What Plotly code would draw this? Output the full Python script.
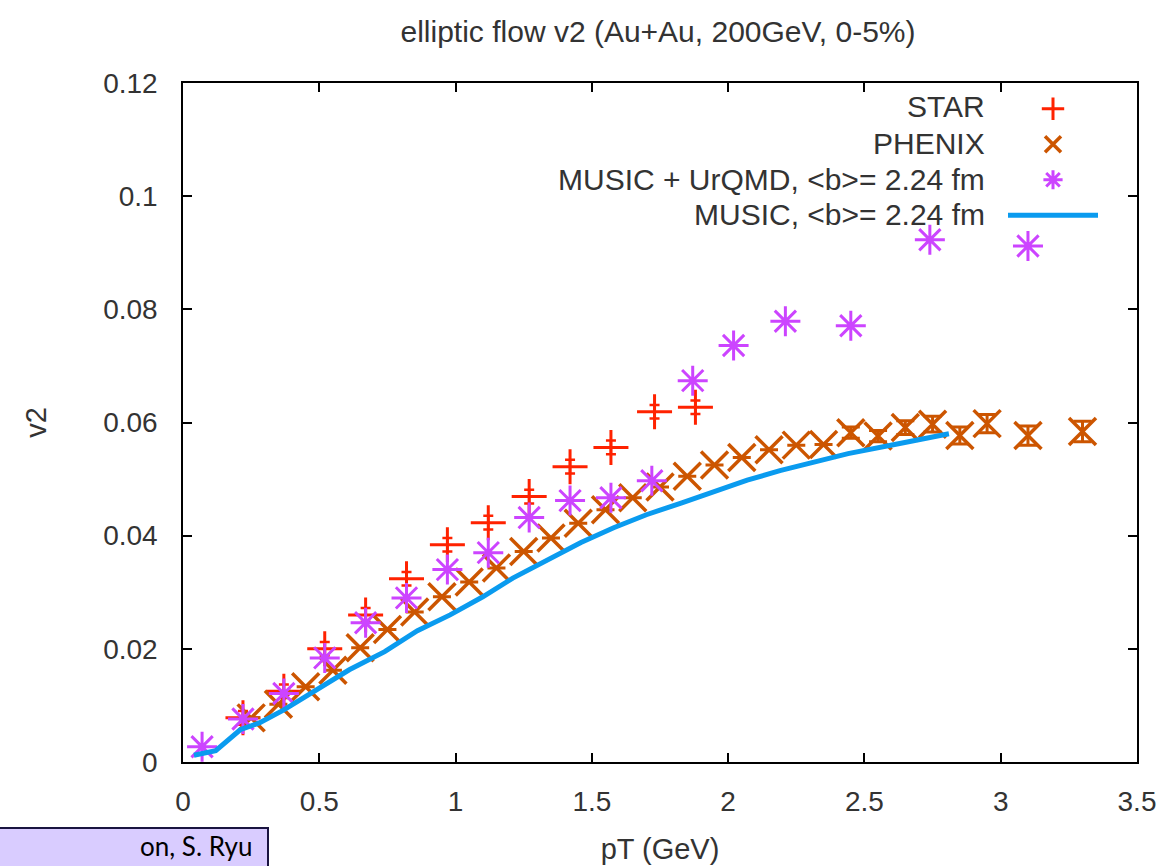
import plotly.graph_objects as go

# ---------------- data ----------------
star_pt = [0.22, 0.37, 0.52, 0.67, 0.82, 0.97, 1.12, 1.27, 1.42, 1.57, 1.73, 1.88]
star_v2 = [0.0078, 0.0125, 0.0200, 0.0260, 0.0324, 0.0384, 0.0423, 0.0469, 0.0522, 0.0556, 0.0619, 0.0627]
star_err = [0.0012, 0.0012, 0.0012, 0.0012, 0.0012, 0.0012, 0.0012, 0.0012, 0.0012, 0.0012, 0.0012, 0.0012]

phenix_pt = [0.25, 0.35, 0.45, 0.55, 0.65, 0.75, 0.85, 0.95, 1.05, 1.15,
             1.25, 1.35, 1.45, 1.55, 1.65, 1.75, 1.85, 1.95, 2.05, 2.15,
             2.25, 2.35, 2.45, 2.55, 2.65, 2.75, 2.85, 2.95, 3.10, 3.30]
phenix_v2 = [0.0078, 0.0102, 0.0133, 0.0162, 0.0202, 0.0234, 0.0265, 0.0292, 0.0318, 0.0343,
             0.0372, 0.0396, 0.0422, 0.0446, 0.0467, 0.0486, 0.0505, 0.0525, 0.0538, 0.0552,
             0.0560, 0.0561, 0.0582, 0.0576, 0.0591, 0.0597, 0.0577, 0.0598, 0.0577, 0.0584]
phenix_err = [None, None, None, None, None, None, None, None, None, None,
              None, None, None, None, None, None, None, None, None, None,
              None, None, 0.0010, 0.0010, 0.0012, 0.0014, 0.0015, 0.0016, 0.0017, 0.0018]

urqmd_pt = [0.07, 0.22, 0.37, 0.52, 0.67, 0.82, 0.97, 1.12, 1.27, 1.42,
            1.57, 1.72, 1.87, 2.02, 2.21, 2.45, 2.74, 3.10]
urqmd_v2 = [0.0027, 0.0076, 0.0121, 0.0184, 0.0246, 0.0290, 0.0340, 0.0370, 0.0432, 0.0462,
            0.0467, 0.0497, 0.0674, 0.0736, 0.0779, 0.0771, 0.0923, 0.0912]

music_pt = [0.04, 0.12, 0.21, 0.28, 0.37, 0.49, 0.61, 0.74, 0.86, 0.98, 1.10, 1.21,
            1.34, 1.46, 1.58, 1.70, 1.83, 1.95, 2.07, 2.19, 2.32, 2.44, 2.62, 2.81]
music_v2 = [0.0012, 0.0020, 0.0057, 0.0069, 0.0092, 0.0127, 0.0163, 0.0195, 0.0232, 0.0260, 0.0292, 0.0325,
            0.0358, 0.0388, 0.0414, 0.0437, 0.0458, 0.0478, 0.0498, 0.0515, 0.0530, 0.0545, 0.0562, 0.0580]

series_names = ["STAR", "PHENIX", "MUSIC + UrQMD, <b>= 2.24 fm", "MUSIC, <b>= 2.24 fm"]
x_ticks = [0, 0.5, 1, 1.5, 2, 2.5, 3, 3.5]
x_tick_text = ["0", "0.5", "1", "1.5", "2", "2.5", "3", "3.5"]
y_ticks = [0, 0.02, 0.04, 0.06, 0.08, 0.1, 0.12]
y_tick_text = ["0", "0.02", "0.04", "0.06", "0.08", "0.1", "0.12"]

title_text = "elliptic flow v2 (Au+Au, 200GeV, 0-5%)"
x_title = "pT (GeV)"
y_title = "v2"
credit_text = "on, S. Ryu"

# ---------------- style ----------------
C_STAR = "#ff2200"
C_PHENIX = "#cc5500"
C_URQMD = "#cc44ff"
C_MUSIC = "#0a9bef"
FONT = "Liberation Sans, Arial, sans-serif"
TXT = "#333333"

W, H = 1159, 866
ML, MR, MT, MB = 183, 22, 83, 104
PW, PH = W - ML - MR, H - MT - MB


def px_x(px):
    return (px - ML) / PW


def px_y(py):
    return (H - MB - py) / PH


fig = go.Figure()

fig.add_trace(go.Scatter(
    x=star_pt, y=star_v2, mode="markers", name=" ",
    marker=dict(symbol="cross-thin", size=25, color=C_STAR,
                line=dict(color=C_STAR, width=3)),
    error_y=dict(type="data", array=star_err, visible=True,
                 color=C_STAR, thickness=2.5, width=5),
))

fig.add_trace(go.Scatter(
    x=phenix_pt, y=phenix_v2, mode="markers", name="  ",
    marker=dict(symbol="x-thin", size=27, color=C_PHENIX,
                line=dict(color=C_PHENIX, width=3.5)),
    error_y=dict(type="data", array=phenix_err, visible=True,
                 color=C_PHENIX, thickness=3, width=9),
))

fig.add_trace(go.Scatter(
    x=urqmd_pt, y=urqmd_v2, mode="markers", name="   ",
    marker=dict(symbol="asterisk", size=25, color=C_URQMD,
                line=dict(color=C_URQMD, width=3)),
))

fig.add_trace(go.Scatter(
    x=music_pt, y=music_v2, mode="lines", name="    ",
    line=dict(color=C_MUSIC, width=5),
))

# legend text (right aligned, symbols to the right, like gnuplot)
legend_rows_px = [106, 143, 179, 214]
annotations = []
for name, py in zip(series_names, legend_rows_px):
    annotations.append(dict(
        x=px_x(987), y=px_y(py), xref="paper", yref="paper",
        xanchor="right", yanchor="middle", showarrow=False,
        text=name.replace("<", "&lt;").replace(">", "&gt;"),
        font=dict(family=FONT, size=30, color=TXT),
    ))

# credit box at bottom-left
annotations.append(dict(
    x=px_x(254), y=px_y(846), xref="paper", yref="paper",
    xanchor="right", yanchor="middle", showarrow=False,
    text=credit_text,
    font=dict(family="Lato, Open Sans, sans-serif", size=26, color="#000000"),
))

shapes = [dict(
    type="rect", xref="paper", yref="paper",
    x0=px_x(-4), x1=px_x(268), y0=px_y(828), y1=px_y(900),
    fillcolor="#d9ccff", line=dict(color="#1a1440", width=2),
    layer="below",
)]

axis_common = dict(
    showline=True, linecolor="#000000", linewidth=1.5, mirror="ticks",
    ticks="inside", ticklen=9, tickwidth=1.5, tickcolor="#000000",
    showgrid=False, zeroline=False, automargin=False,
    tickfont=dict(family=FONT, size=28, color=TXT),
)

fig.update_layout(
    width=W, height=H,
    margin=dict(l=ML, r=MR, t=MT, b=MB, autoexpand=False),
    paper_bgcolor="white", plot_bgcolor="white",
    title=dict(text=title_text, x=px_x(658), xanchor="center", xref="paper",
               y=1 - 31 / H, yanchor="middle", yref="container",
               font=dict(family=FONT, size=30, color=TXT)),
    xaxis=dict(range=[0, 3.5], tickvals=x_ticks, ticktext=x_tick_text,
               ticklabelstandoff=14,
               title=dict(text=x_title, font=dict(family=FONT, size=29, color=TXT), standoff=22),
               **axis_common),
    yaxis=dict(range=[0, 0.12], tickvals=y_ticks, ticktext=y_tick_text,
               ticklabelstandoff=18,
               title=dict(text=y_title, font=dict(family=FONT, size=29, color=TXT), standoff=48),
               **axis_common),
    showlegend=True,
    legend=dict(x=px_x(1003), y=px_y(86), xanchor="left", yanchor="top",
                bgcolor="rgba(0,0,0,0)", font=dict(family=FONT, size=25),
                itemwidth=90, tracegroupgap=0),
    annotations=annotations,
    shapes=shapes,
)

fig.write_html("out.html")
